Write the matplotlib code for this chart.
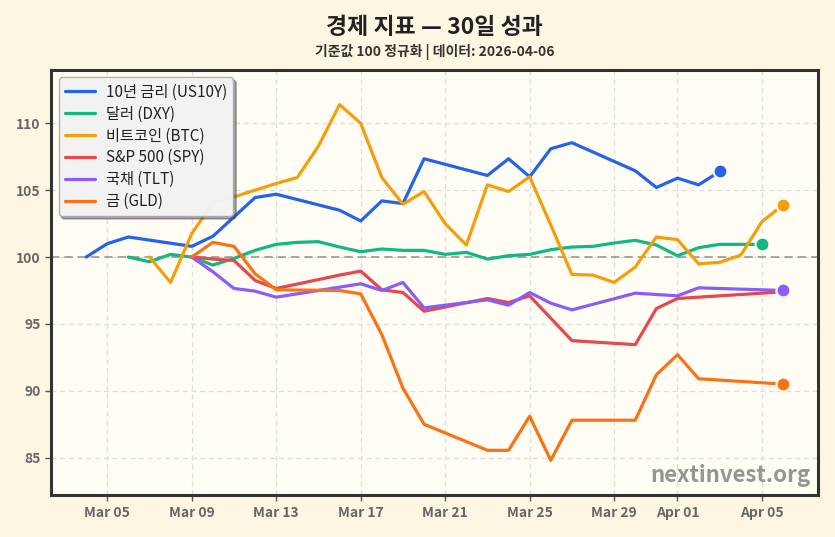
import numpy as np
import pandas as pd
import matplotlib
matplotlib.use('Agg')
import matplotlib.pyplot as plt
import matplotlib.dates as mdates

plt.rcParams['font.family'] = ['Noto Sans CJK KR', 'DejaVu Sans']

# normalized to 100
us10y_dates = ['2026-03-04', '2026-03-05', '2026-03-06', '2026-03-09', '2026-03-10', '2026-03-11',
               '2026-03-12', '2026-03-13', '2026-03-16', '2026-03-17', '2026-03-18', '2026-03-19',
               '2026-03-20', '2026-03-23', '2026-03-24', '2026-03-25', '2026-03-26', '2026-03-27',
               '2026-03-30', '2026-03-31', '2026-04-01', '2026-04-02', '2026-04-03']
us10y = [100.0, 101.0, 101.5, 100.8, 101.55, 103.0, 104.45, 104.7, 103.5, 102.7, 104.2, 104.0,
         107.35, 106.1, 107.35, 106.0, 108.1, 108.55, 106.45, 105.2, 105.9, 105.4, 106.4]

dxy_dates = pd.date_range('2026-03-06', '2026-04-05', freq='D')
dxy = [100.0, 99.65, 100.2, 100.0, 99.4, 99.9, 100.5, 100.95, 101.1, 101.15, 100.75, 100.4,
       100.6, 100.5, 100.5, 100.2, 100.35, 99.85, 100.1, 100.2, 100.55, 100.75, 100.8, 101.05,
       101.25, 100.9, 100.1, 100.7, 100.95, 100.95, 100.95]

btc_dates = pd.date_range('2026-03-07', '2026-04-06', freq='D')
btc = [100.0, 98.1, 101.75, 104.05, 104.5, 105.0, 105.5, 105.95, 108.3, 111.4, 110.0, 105.95,
       103.95, 104.9, 102.5, 100.9, 105.4, 104.9, 106.0, 102.4, 98.7, 98.65, 98.1, 99.25,
       101.5, 101.3, 99.5, 99.6, 100.15, 102.65, 103.9]

spy_dates = ['2026-03-09', '2026-03-10', '2026-03-11', '2026-03-12', '2026-03-13', '2026-03-16',
             '2026-03-17', '2026-03-18', '2026-03-19', '2026-03-20', '2026-03-23', '2026-03-24',
             '2026-03-25', '2026-03-27', '2026-03-30', '2026-03-31', '2026-04-01', '2026-04-06']
spy = [100.0, 99.85, 99.75, 98.25, 97.65, 98.65, 98.95, 97.55, 97.35, 95.95, 96.9, 96.6,
       97.1, 93.75, 93.45, 96.15, 96.9, 97.4]

tlt_dates = ['2026-03-09', '2026-03-10', '2026-03-11', '2026-03-12', '2026-03-13', '2026-03-17',
             '2026-03-18', '2026-03-19', '2026-03-20', '2026-03-23', '2026-03-24', '2026-03-25',
             '2026-03-26', '2026-03-27', '2026-03-30', '2026-04-01', '2026-04-02', '2026-04-06']
tlt = [100.0, 98.9, 97.65, 97.45, 97.0, 98.0, 97.5, 98.1, 96.2, 96.8, 96.4, 97.35,
       96.55, 96.05, 97.3, 97.1, 97.7, 97.5]

gld_dates = ['2026-03-09', '2026-03-10', '2026-03-11', '2026-03-12', '2026-03-13', '2026-03-16',
             '2026-03-17', '2026-03-18', '2026-03-19', '2026-03-20', '2026-03-23', '2026-03-24',
             '2026-03-25', '2026-03-26', '2026-03-27', '2026-03-30', '2026-03-31', '2026-04-01',
             '2026-04-02', '2026-04-06']
gld = [100.0, 101.1, 100.8, 98.75, 97.55, 97.5, 97.25, 94.2, 90.2, 87.5, 85.55, 85.55,
       88.1, 84.8, 87.8, 87.8, 91.2, 92.7, 90.9, 90.5]

labels = ['10년 금리 (US10Y)', '달러 (DXY)', '비트코인 (BTC)', 'S&P 500 (SPY)', '국채 (TLT)', '금 (GLD)']
colors = ['#2563eb', '#10b981', '#f59e0b', '#e5484d', '#8b5cf6', '#f97316']

series = [(us10y_dates, us10y), (dxy_dates, dxy), (btc_dates, btc),
          (spy_dates, spy), (tlt_dates, tlt), (gld_dates, gld)]

fig_bg = '#fdf6e3'
ax_bg = '#fffdf4'

fig = plt.figure(figsize=(8.35, 5.37), dpi=100, facecolor=fig_bg)
ax = fig.add_axes([0.061, 0.078, 0.919, 0.792])
ax.set_facecolor(ax_bg)

for (d, v), lab, c in zip(series, labels, colors):
    d = pd.to_datetime(d)
    ax.plot(d, v, color=c, lw=2.3, label=lab, zorder=3, solid_capstyle='round')
    ax.plot(d[-1:], v[-1:], 'o', color=c, ms=10, mec=ax_bg, mew=1.5, zorder=4)

ax.axhline(100, color='#999999', lw=1.2, ls=(0, (5, 3)), zorder=2)
ax.grid(True, color='#dddddd', lw=0.9, ls=(0, (4, 3)), zorder=1)

ax.set_xlim(pd.Timestamp('2026-03-02 08:00'), pd.Timestamp('2026-04-07 16:00'))
ax.set_ylim(82.2, 114)
ax.set_yticks([85, 90, 95, 100, 105, 110])
ax.xaxis.set_major_locator(mdates.DayLocator(bymonthday=[1, 5, 9, 13, 17, 21, 25, 29]))
ax.xaxis.set_major_formatter(mdates.DateFormatter('%b %d'))

for s in ax.spines.values():
    s.set_color('#333333')
    s.set_linewidth(2.2)
ax.tick_params(colors='#555555', labelcolor='#666666', labelsize=10, length=4, width=1)
for t in ax.get_xticklabels() + ax.get_yticklabels():
    t.set_fontweight('bold')

leg = ax.legend(loc='upper left', fontsize=11, frameon=True, fancybox=True, shadow=True,
                facecolor='#f7f7f7', edgecolor='#aaaaaa', framealpha=0.95,
                borderaxespad=0.5, handlelength=2.0, handletextpad=0.7, labelspacing=0.32)
for t in leg.get_texts():
    t.set_color('#222222')

ax.text(0.99, 0.02, 'nextinvest.org', transform=ax.transAxes, ha='right', va='bottom',
        fontsize=16, fontweight='bold', color='#8a8a8a', alpha=0.9, zorder=5)

cx = 0.061 + 0.919 / 2
fig.text(cx, 0.948, '경제 지표 — 30일 성과', ha='center', va='center',
         fontsize=16.5, fontweight='bold', color='#222222')
fig.text(cx, 0.903, '기준값 100 정규화 | 데이터: 2026-04-06', ha='center', va='center',
         fontsize=10, fontweight='bold', color='#333333')

fig.savefig('out.png', dpi=100, facecolor=fig_bg)
